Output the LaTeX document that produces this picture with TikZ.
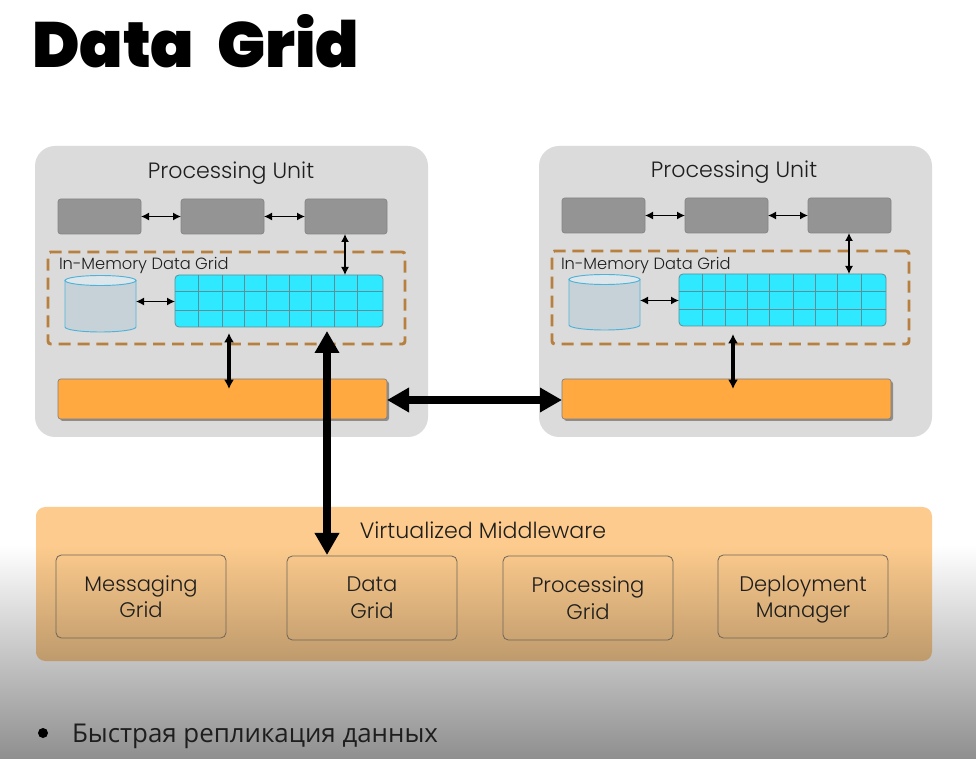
\documentclass[tikz,border=0pt]{standalone}
\usepackage{fontspec}
\setmainfont{Poppins}[UprightFont=* Light,BoldFont=* Black]
\newfontfamily\ruf{Open Sans}
\usetikzlibrary{arrows.meta,shapes.geometric,shadows}
\definecolor{pugray}{HTML}{DBDBDB}
\definecolor{gbox}{HTML}{949494}
\definecolor{gboxline}{HTML}{858585}
\definecolor{dash}{HTML}{B8803F}
\definecolor{cellfill}{HTML}{2EE9FF}
\definecolor{cellline}{HTML}{5E8F96}
\definecolor{cylbody}{HTML}{C6D2D8}
\definecolor{cyltop}{HTML}{DDE6EA}
\definecolor{cylline}{HTML}{4FB3D9}
\definecolor{orng}{HTML}{FFA940}
\definecolor{innerline}{HTML}{6F675A}
\definecolor{mwtop}{HTML}{FDCB8D}
\definecolor{mwbot}{HTML}{BE9A6C}
\definecolor{txt}{HTML}{1E1E1E}
\pgfdeclareverticalshading{mwshade}{100bp}{color(0bp)=(mwbot);color(25bp)=(mwbot);color(62.7bp)=(mwtop);color(100bp)=(mwtop)}
\tikzset{
  bx/.style n args={2}{minimum width=#1*0.75pt,minimum height=#2*0.75pt,inner sep=0pt,outer sep=0pt,anchor=north west},
  pubox/.style={fill=pugray,rounded corners=15pt},
  grey/.style={fill=gbox,draw=gboxline,line width=.5pt,rounded corners=2pt},
  dashbox/.style={draw=dash,line width=2.2pt,dash pattern=on 9pt off 5.2pt,rounded corners=2pt},
  gridbox/.style={fill=cellfill,draw=cellline,line width=.6pt,rounded corners=3pt},
  gridline/.style={draw=cellline,line width=.6pt},
  orbox/.style={fill=orng,draw=gray,line width=.5pt,rounded corners=2pt,drop shadow={shadow xshift=1.5pt,shadow yshift=-1.5pt,opacity=.35,fill=black}},
  cylb/.style={fill=cylbody,draw=cylline,line width=.7pt},
  cylt/.style={fill=cyltop,draw=cylline,line width=.7pt},
  inner/.style={draw=innerline,line width=.6pt,rounded corners=4pt,align=center,text=txt,font=\fontsize{15.8}{20}\selectfont},
  thin arrow/.style={{Latex[length=6pt,width=6pt]}-{Latex[length=6pt,width=6pt]},line width=1pt,black},
  mid arrow/.style={{Latex[length=7pt,width=7.5pt]}-{Latex[length=7pt,width=7.5pt]},line width=2.3pt,black},
  big arrow/.style={{Triangle[length=16.5pt,width=17.5pt]}-{Triangle[length=16.5pt,width=17.5pt]},line width=5.7pt,black},
  lbl/.style={inner sep=0pt,outer sep=0pt,text=txt},
  pu/.style={lbl,font=\fontsize{16.6}{20}\selectfont},
  imdg/.style={lbl,anchor=west,font=\fontsize{12.2}{14}\selectfont},
}
\begin{document}
\begin{tikzpicture}[x=0.75pt,y=-0.75pt]
\useasboundingbox (0,0) rectangle (976,759);
\fill[white] (0,0) rectangle (976,545);
\shade[top color=white,bottom color=white!56!black] (0,545) rectangle (976,759);
\node[lbl,text=black,anchor=west,font=\fontsize{48}{50}\selectfont\bfseries] (title) at (32,41) {Data\hspace{9pt} Grid};

% Processing units
\node[bx={393}{291},pubox] (pu1) at (35,146) {};
\node[bx={393}{291},pubox] (pu2) at (539,146) {};
\node[pu] (pu1t) at (231,173) {Processing Unit};
\node[pu] (pu2t) at (734,172) {Processing Unit};

% PU 1
\node[bx={83}{35},grey] (a1) at (58,199) {};
\node[bx={83}{35},grey] (a2) at (181,199) {};
\node[bx={82}{35},grey] (a3) at (305,199) {};
\node[bx={357}{92},dashbox] (d1) at (48,252) {};
\node[imdg] (d1t) at (59,265) {In-Memory Data Grid};
\node[bx={71}{57}] (c1) at (65,275) {};
\draw[cylb] (c1.north west |- 0,280) -- (c1.south west |- 0,327) arc[start angle=180,end angle=360,x radius=35.5,y radius=-5] -- (c1.north east |- 0,280);
\draw[cylt] (100.5,280.5) ellipse[x radius=35.5,y radius=5];
\node[bx={208}{52},gridbox] (g1) at (175,275) {};
\foreach \x in {198.3,222.3,244.3,266.3,289.7,311.7,334.3,357.7} \draw[gridline] (\x,275) -- (\x,327);
\foreach \y in {291.7,310.3} \draw[gridline] (175,\y) -- (383,\y);
\node[bx={329}{40},orbox] (o1) at (58,379) {};

% PU 2
\node[bx={83}{35},grey] (b1) at (562,198) {};
\node[bx={83}{35},grey] (b2) at (685,198) {};
\node[bx={83}{35},grey] (b3) at (808,198) {};
\node[bx={357}{93},dashbox] (d2) at (552,251) {};
\node[imdg] (d2t) at (561,265) {In-Memory Data Grid};
\node[bx={71}{56}] (c2) at (569,274) {};
\draw[cylb] (c2.north west |- 0,279) -- (c2.south west |- 0,325) arc[start angle=180,end angle=360,x radius=35.5,y radius=-5] -- (c2.north east |- 0,279);
\draw[cylt] (604.5,279.5) ellipse[x radius=35.5,y radius=5];
\node[bx={207}{52},gridbox] (g2) at (679,274) {};
\foreach \x in {702.3,725.7,747.7,769.7,793.7,815.7,837.7,861.7} \draw[gridline] (\x,274) -- (\x,326);
\foreach \y in {291.3,309.3} \draw[gridline] (679,\y) -- (886,\y);
\node[bx={329}{40},orbox] (o2) at (562,379) {};

% Middleware
\shade[shading=mwshade,rounded corners=7pt] (36,507) rectangle (932,661);
\node[pu] (mwt) at (483,530) {Virtualized Middleware};
\node[bx={170}{83},inner] (m1) at (56,555) {Messaging\\Grid};
\node[bx={170}{84},inner] (m2) at (287,556) {Data\\Grid};
\node[bx={170}{84},inner] (m3) at (503,556) {Processing\\Grid};
\node[bx={170}{83},inner] (m4) at (718,555) {\rule{0pt}{16pt}Deployment\\Manager};

% Connectors
\draw[thin arrow] (a1.east) -- (a2.west);
\draw[thin arrow] (a2.east) -- (a3.west);
\draw[thin arrow] (b1.east) -- (b2.west);
\draw[thin arrow] (b2.east) -- (b3.west);
\draw[thin arrow] (c1.east |- 0,301.5) -- (g1.west |- 0,301.5);
\draw[thin arrow] (c2.east |- 0,300.5) -- (g2.west |- 0,300.5);
\draw[thin arrow] (a3.south -| 345,0) -- (g1.north -| 345,0);
\draw[thin arrow] (b3.south -| 849,0) -- (g2.north -| 849,0);
\coordinate (e1t) at (229,333); \coordinate (e1b) at (229,389);
\coordinate (e2t) at (733,334); \coordinate (e2b) at (733,389);
\draw[mid arrow] (e1t) -- (e1b);
\draw[mid arrow] (e2t) -- (e2b);
\coordinate (bigt) at (327,331); \coordinate (bigb) at (327,555);
\draw[big arrow] (bigt) -- (bigb);
\draw[big arrow] ([yshift=-.75pt]o1.east) -- ([yshift=-.75pt]o2.west);

% Bullet
\node[circle,fill=black,minimum size=7.5pt,inner sep=0pt] (bul) at (43,733) {};
\node[lbl,anchor=west,font=\fontsize{19.4}{22}\selectfont\ruf] (bt) at (72,736) {Быстрая репликация данных};
\end{tikzpicture}
\end{document}
